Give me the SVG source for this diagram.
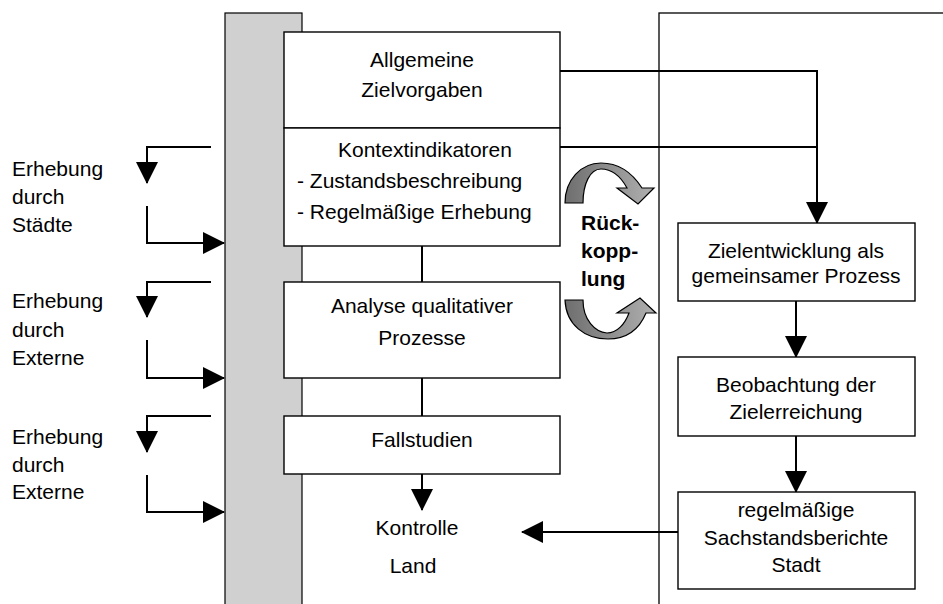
<svg xmlns="http://www.w3.org/2000/svg" width="943" height="604" viewBox="0 0 943 604">
<defs>
<marker id="ah" markerUnits="userSpaceOnUse" markerWidth="22" markerHeight="22" refX="21" refY="11" orient="auto">
<path d="M0,0 L22,11 L0,22 z" fill="#000"/>
</marker>
<linearGradient id="gr" x1="0" y1="0" x2="1" y2="0">
<stop offset="0" stop-color="#6e6e6e"/>
<stop offset="1" stop-color="#b0b0b0"/>
</linearGradient>
<style>
text{font-family:"Liberation Sans",Arial,sans-serif;font-size:21px;fill:#000}
.c{text-anchor:middle}
.b{font-weight:bold}
.box{fill:#fff;stroke:#000;stroke-width:1.4}
.ln{fill:none;stroke:#000;stroke-width:2}
.ar{fill:none;stroke:#000;stroke-width:2;marker-end:url(#ah)}
</style>
</defs>
<rect width="943" height="604" fill="#fff"/>
<g id="bar"><rect x="225" y="13" width="77" height="600" fill="#d0d0d0" stroke="#000" stroke-width="1.2"/></g>
<g id="rightframe"><rect x="659" y="13" width="300" height="600" fill="none" stroke="#000" stroke-width="1.3"/></g>
<g id="connectors">
<path class="ln" d="M560,71 H817 V205"/>
<path class="ar" d="M560,147 H817 V223"/>
<path class="ln" d="M422,246 V282"/>
<path class="ln" d="M422,378 V416"/>
<path class="ar" d="M422,474 V510"/>
<path class="ar" d="M796,301 V357"/>
<path class="ar" d="M796,436 V492"/>
<path class="ar" d="M678,532 H522"/>
<path class="ar" d="M211,147 H147 V183"/>
<path class="ar" d="M147,206 V243 H224"/>
<path class="ar" d="M211,282 H147 V317"/>
<path class="ar" d="M147,340 V378 H224"/>
<path class="ar" d="M211,416 H147 V452"/>
<path class="ar" d="M147,475 V512 H224"/>
</g>
<g id="n-allgemeine"><rect class="box" x="284" y="32" width="276" height="96"/>
<text class="c" x="422" y="67">Allgemeine</text><text class="c" x="422" y="97">Zielvorgaben</text></g>
<g id="n-kontext"><rect class="box" x="284" y="128" width="276" height="118"/>
<text x="338" y="157">Kontextindikatoren</text>
<text x="297" y="188">- Zustandsbeschreibung</text>
<text x="297" y="219">- Regelmäßige Erhebung</text></g>
<g id="n-analyse"><rect class="box" x="284" y="282" width="276" height="96"/>
<text class="c" x="422" y="313">Analyse qualitativer</text><text class="c" x="422" y="345">Prozesse</text></g>
<g id="n-fall"><rect class="box" x="284" y="416" width="276" height="58"/>
<text class="c" x="422" y="447">Fallstudien</text></g>
<g id="n-kontrolle"><text class="c" x="417" y="535">Kontrolle</text><text class="c" x="413" y="573">Land</text></g>
<g id="n-ziel"><rect class="box" x="678" y="223" width="237" height="78"/>
<text class="c" x="796" y="258">Zielentwicklung als</text><text class="c" x="796" y="283">gemeinsamer Prozess</text></g>
<g id="n-beob"><rect class="box" x="678" y="357" width="237" height="79"/>
<text class="c" x="796" y="392">Beobachtung der</text><text class="c" x="796" y="419">Zielerreichung</text></g>
<g id="n-sach"><rect class="box" x="678" y="492" width="237" height="97"/>
<text class="c" x="796" y="517">regelmäßige</text><text class="c" x="796" y="545">Sachstandsberichte</text><text class="c" x="796" y="572">Stadt</text></g>
<g id="n-erh1"><text x="12" y="176">Erhebung</text><text x="12" y="204">durch</text><text x="12" y="232">Städte</text></g>
<g id="n-erh2"><text x="12" y="308">Erhebung</text><text x="12" y="337">durch</text><text x="12" y="365">Externe</text></g>
<g id="n-erh3"><text x="12" y="444">Erhebung</text><text x="12" y="472">durch</text><text x="12" y="499">Externe</text></g>
<g id="n-rueck">
<path d="M565,203 C565,180 581,163 601,163 C619,163 633,174 642,188 L654,188 L638,204 L617,188 L627,188 C621,177 612,169 601,169 C590,169 583,184 583,203 Z" fill="url(#gr)" stroke="#000" stroke-width="1.2"/>
<path d="M565,300 L583,300 C583,320 595,332 607,333 C617,333 625,324 629,313 L617,313 L640,298 L656,313 L646,313 C639,330 626,339 608,339 C585,339 566,325 565,300 Z" fill="url(#gr)" stroke="#000" stroke-width="1.2"/>
<text class="b" x="581" y="230">Rück-</text><text class="b" x="581" y="258">kopp-</text><text class="b" x="581" y="286">lung</text>
</g>
</svg>
